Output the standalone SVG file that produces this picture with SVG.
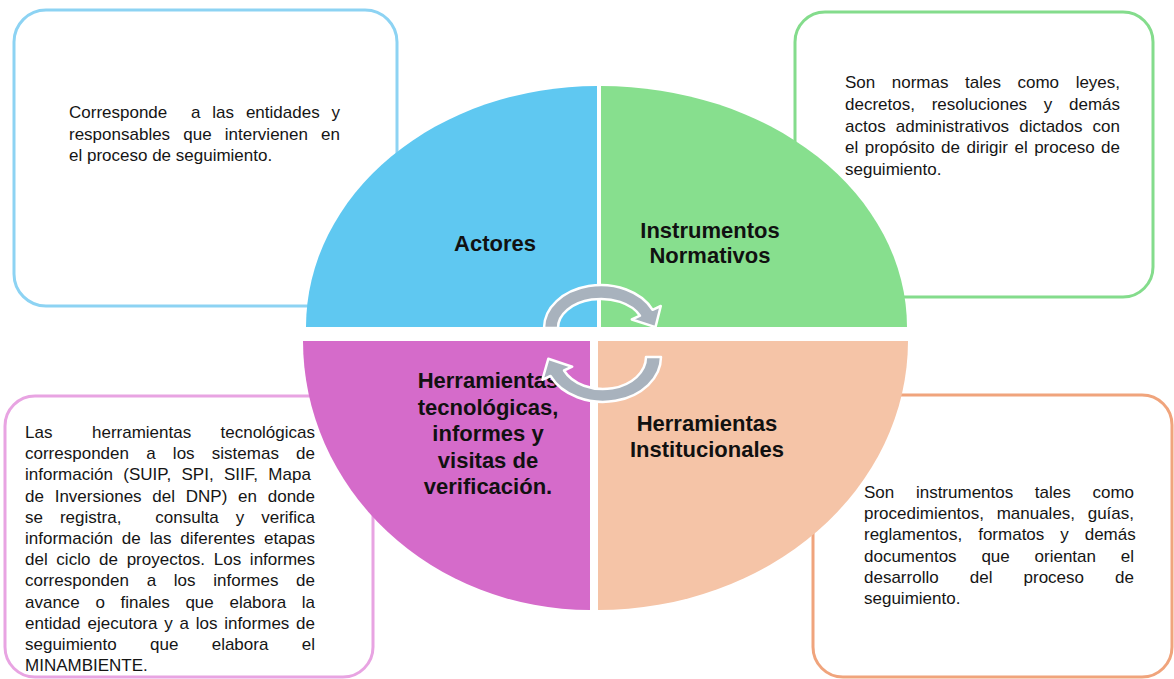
<svg xmlns="http://www.w3.org/2000/svg" width="1174" height="679" viewBox="0 0 1174 679">
<style>
.box{fill:#ffffff;stroke-width:3}
.body{font-family:"Liberation Sans",Arial,sans-serif;font-size:17px;fill:#151515}
.lbl{font-family:"Liberation Sans",Arial,sans-serif;font-size:22px;font-weight:bold;fill:#111111;text-anchor:middle}
.arr{fill:#a8b2bd;stroke:#ffffff;stroke-width:2.5;stroke-linejoin:round}
</style>
<rect width="1174" height="679" fill="#ffffff"/>

<g id="box-actores">
<rect class="box" x="14" y="10" width="383" height="296" rx="32" stroke="#8dd3f3"/>
<text class="body" x="69" y="118" xml:space="preserve" word-spacing="7.14">Corresponde  a las entidades y</text>
<text class="body" x="69" y="139.7" word-spacing="8.43">responsables que intervienen en</text>
<text class="body" x="69" y="161.4">el proceso de seguimiento.</text>
</g>

<g id="box-normativos">
<rect class="box" x="795" y="12" width="358" height="285" rx="30" stroke="#84dc8c"/>
<text class="body" x="845" y="88" word-spacing="11.83">Son normas tales como leyes,</text>
<text class="body" x="845" y="109.8" word-spacing="12">decretos, resoluciones y demás</text>
<text class="body" x="845" y="131.6" word-spacing="5.37">actos administrativos dictados con</text>
<text class="body" x="845" y="153.4" word-spacing="1.73">el propósito de dirigir el proceso de</text>
<text class="body" x="845" y="175.2">seguimiento.</text>
</g>

<g id="box-tecnologicas">
<rect class="box" x="5" y="396" width="368" height="281" rx="30" stroke="#e8a4e2"/>
<text class="body" y="438"><tspan x="25">Las</tspan><tspan x="92">herramientas</tspan><tspan x="220.5">tecnológicas</tspan></text>
<text class="body" x="25" y="459.2" word-spacing="12.5">corresponden a los sistemas de</text>
<text class="body" x="25" y="480.4" word-spacing="5.65">información (SUIP, SPI, SIIF, Mapa</text>
<text class="body" x="25" y="501.6" word-spacing="6.03">de Inversiones del DNP) en donde</text>
<text class="body" x="25" y="522.8" xml:space="preserve" word-spacing="12.28">se registra,  consulta y verifica</text>
<text class="body" x="25" y="544" word-spacing="4.23">información de las diferentes etapas</text>
<text class="body" x="25" y="565.2" word-spacing="3.96">del ciclo de proyectos. Los informes</text>
<text class="body" x="25" y="586.4" word-spacing="12.97">corresponden a los informes de</text>
<text class="body" x="25" y="607.6" word-spacing="10.94">avance o finales que elabora la</text>
<text class="body" x="25" y="628.8" word-spacing="2.03">entidad ejecutora y a los informes de</text>
<text class="body" x="25" y="650" word-spacing="28.6">seguimiento que elabora el</text>
<text class="body" x="25" y="671.2">MINAMBIENTE.</text>
</g>

<g id="box-institucionales">
<rect class="box" x="813" y="395" width="359" height="282" rx="30" stroke="#f0a47c"/>
<text class="body" x="864" y="498" word-spacing="16.93">Son instrumentos tales como</text>
<text class="body" x="864" y="519.2" word-spacing="7.9">procedimientos, manuales, guías,</text>
<text class="body" x="864" y="540.4" word-spacing="11.2">reglamentos, formatos y demás</text>
<text class="body" x="864" y="561.6" word-spacing="20.07">documentos que orientan el</text>
<text class="body" x="864" y="582.8" word-spacing="26.37">desarrollo del proceso de</text>
<text class="body" x="864" y="604">seguimiento.</text>
</g>

<g id="node-actores">
<path d="M597,327 H306 A291,241 0 0 1 597,86 Z" fill="#5fc8f1"/>
<text class="lbl" x="495" y="251">Actores</text>
</g>

<g id="node-instrumentos-normativos">
<path d="M601,327 V86 A306,241 0 0 1 907,327 Z" fill="#87df8e"/>
<text class="lbl" x="710" y="238">Instrumentos</text>
<text class="lbl" x="710" y="263">Normativos</text>
</g>

<g id="node-herramientas-tecnologicas">
<path d="M590,341 H303 A287,269 0 0 0 590,610 Z" fill="#d56bca"/>
<text class="lbl" x="488" y="388">Herramientas</text>
<text class="lbl" x="488" y="414.5">tecnológicas,</text>
<text class="lbl" x="488" y="441">informes y</text>
<text class="lbl" x="488" y="467.5">visitas de</text>
<text class="lbl" x="488" y="494">verificación.</text>
</g>

<g id="node-herramientas-institucionales">
<path d="M598,341 H908 A310,269 0 0 1 598,610 Z" fill="#f5c4a7"/>
<text class="lbl" x="707" y="431">Herramientas</text>
<text class="lbl" x="707" y="456.5">Institucionales</text>
</g>

<g id="connectors">
<path class="arr" d="M544,328 A57,43 0 0 1 652.6,309.8 L660.8,306 L655.5,327.1 L631.8,319.5 L640,315.7 A43,29 0 0 0 558,328 Z"/>
<path class="arr" d="M661,357 A58,45 0 0 1 550.5,376 L542.3,379.8 L548.3,358.8 L572.2,366.7 L564,370.5 A43,32 0 0 0 646,357 Z"/>
</g>
</svg>
